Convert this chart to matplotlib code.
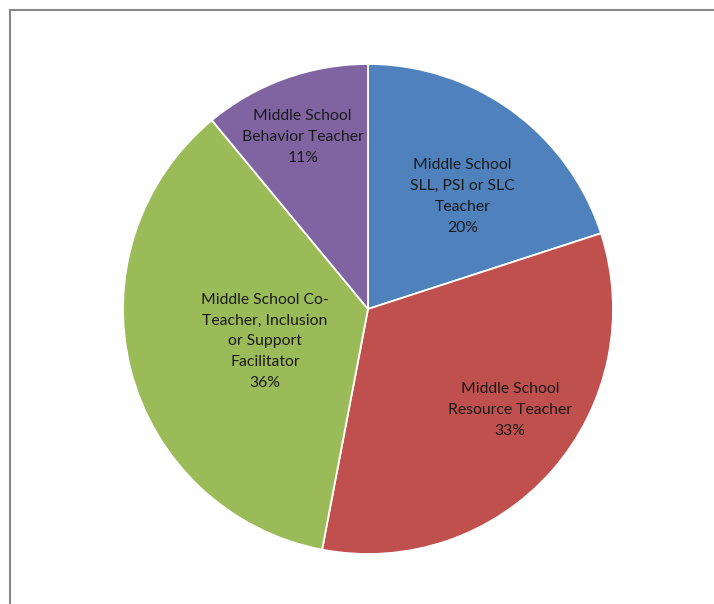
import matplotlib.pyplot as plt
from matplotlib.lines import Line2D
import numpy as np

# Slices, clockwise from 12 o'clock
roles = ["Middle School\nSLL, PSI or SLC\nTeacher",
         "Middle School\nResource Teacher",
         "Middle School Co-\nTeacher, Inclusion\nor Support\nFacilitator",
         "Middle School\nBehavior Teacher"]
shares = [20, 33, 36, 11]

colors = ["#4F81BD", "#C0504D", "#9BBB59", "#8064A2"]
# where each label sits inside its wedge (fraction of radius, angle nudge in degrees)
label_r = [0.60, 0.71, 0.44, 0.75]
label_nudge = [-4, 6, 3, 1]

plt.rcParams['font.family'] = ['Lato', 'DejaVu Sans']

W, H = 714, 604
fig = plt.figure(figsize=(W / 100, H / 100), dpi=100)
cx, cy, R = 368, 309, 245
ax = fig.add_axes([(cx - R) / W, (H - cy - R) / H, 2 * R / W, 2 * R / H])

wedges, _ = ax.pie(shares, colors=colors, startangle=90, counterclock=False,
                   radius=1, wedgeprops=dict(edgecolor="white", linewidth=1.3))
ax.set_xlim(-1, 1)
ax.set_ylim(-1, 1)
ax.axis("off")

for w, name, val, r, nudge in zip(wedges, roles, shares, label_r, label_nudge):
    mid = np.deg2rad((w.theta1 + w.theta2) / 2 + nudge)
    ax.text(r * np.cos(mid), r * np.sin(mid), f"{name}\n{val}%",
            ha="center", va="center", fontsize=11.3, color="#1a1a1a",
            linespacing=1.62)

# chart border (runs off the right and bottom edges)
fig.add_artist(Line2D([10 / W, 10 / W], [0, 1 - 10 / H], transform=fig.transFigure,
                      color="#878787", linewidth=1.5))
fig.add_artist(Line2D([10 / W, 1], [1 - 10 / H, 1 - 10 / H], transform=fig.transFigure,
                      color="#878787", linewidth=1.5))

fig.savefig("out.png", dpi=100, facecolor="white")
